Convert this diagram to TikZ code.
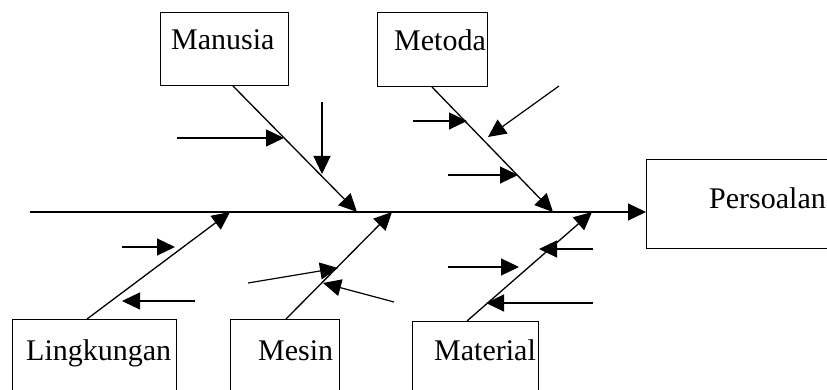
\documentclass[tikz,border=0pt]{standalone}
\usepackage{fontspec}
\setmainfont{Liberation Serif}
\usetikzlibrary{arrows.meta,calc}
\begin{document}
\begin{tikzpicture}[x=1pt,y=-1pt,
  box/.style={draw,line width=1pt,rectangle,inner sep=0pt,anchor=north west},
  lbl/.style={font=\fontsize{30}{34}\selectfont,inner sep=0pt,anchor=base west},
  tip/.style={-{Triangle[length=18pt,width=17pt]}},
  bone/.style={line width=1.3pt,tip},
  cause/.style={line width=1.2pt,tip}]
\useasboundingbox (0,0) rectangle (827,390);
\clip (0,0) rectangle (827,390);

% category boxes
\node[box,minimum width=128pt,minimum height=73pt] (manusia) at (160,12) {};
\node[box,minimum width=110pt,minimum height=74pt] (metoda) at (377,12) {};
\node[box,minimum width=190pt,minimum height=89pt] (persoalan) at (646,159) {};
\node[box,minimum width=164pt,minimum height=90pt] (lingkungan) at (12,319) {};
\node[box,minimum width=109pt,minimum height=90pt] (mesin) at (230,319) {};
\node[box,minimum width=126pt,minimum height=90pt] (material) at (412,321) {};

% labels
\node[lbl] (tmanusia) at (171,50) {Manusia};
\node[lbl] (tmetoda) at (394,51) {Metoda};
\node[lbl] (tpersoalan) at (709,208) {Persoalan};
\node[lbl] (tlingkungan) at (26,360) {Lingkungan};
\node[lbl] (tmesin) at (258,360) {Mesin};
\node[lbl] (tmaterial) at (434,360) {Material};

% spine
\coordinate (tail) at (30,212);
\draw[bone] (tail) -- (tail -| persoalan.west);

% main bones
\coordinate (jManusia) at (357,212);
\coordinate (jMetoda) at (553,212);
\coordinate (jLing) at (230,212);
\coordinate (jMesin) at (392,212);
\coordinate (jMaterial) at (592,212);
\draw[bone] ($(manusia.south west)+(73,0)$) -- (jManusia);
\draw[bone] ($(metoda.south west)+(55,0)$) -- (jMetoda);
\draw[bone] ($(lingkungan.north west)+(75,0)$) -- (jLing);
\draw[bone] ($(mesin.north west)+(56,0)$) -- (jMesin);
\draw[bone] ($(material.north west)+(55,0)$) -- (jMaterial);

% causes on Manusia
\coordinate (a1) at (177,138); \coordinate (a1t) at (284,138);
\coordinate (a2) at (322,102); \coordinate (a2t) at (322,174);
\draw[cause] (a1) -- (a1t);
\draw[cause] (a2) -- (a2t);

% causes on Metoda
\coordinate (b1) at (413,121); \coordinate (b1t) at (467,121);
\coordinate (b2) at (559,86);  \coordinate (b2t) at (488,137);
\coordinate (b3) at (448,175); \coordinate (b3t) at (518,175);
\draw[cause] (b1) -- (b1t);
\draw[cause] (b2) -- (b2t);
\draw[cause] (b3) -- (b3t);

% causes on Lingkungan
\coordinate (c1) at (122,247); \coordinate (c1t) at (175,247);
\coordinate (c2) at (195,301); \coordinate (c2t) at (122,301);
\draw[cause] (c1) -- (c1t);
\draw[cause] (c2) -- (c2t);

% causes on Mesin
\coordinate (d1) at (248,283); \coordinate (d1t) at (338,268);
\coordinate (d2) at (394,302); \coordinate (d2t) at (323,283);
\draw[cause] (d1) -- (d1t);
\draw[cause] (d2) -- (d2t);

% causes on Material
\coordinate (e1) at (448,267); \coordinate (e1t) at (519,267);
\coordinate (e2) at (593,249); \coordinate (e2t) at (539,249);
\coordinate (e3) at (593,303); \coordinate (e3t) at (486,303);
\draw[cause] (e1) -- (e1t);
\draw[cause] (e2) -- (e2t);
\draw[cause] (e3) -- (e3t);
\end{tikzpicture}
\end{document}
